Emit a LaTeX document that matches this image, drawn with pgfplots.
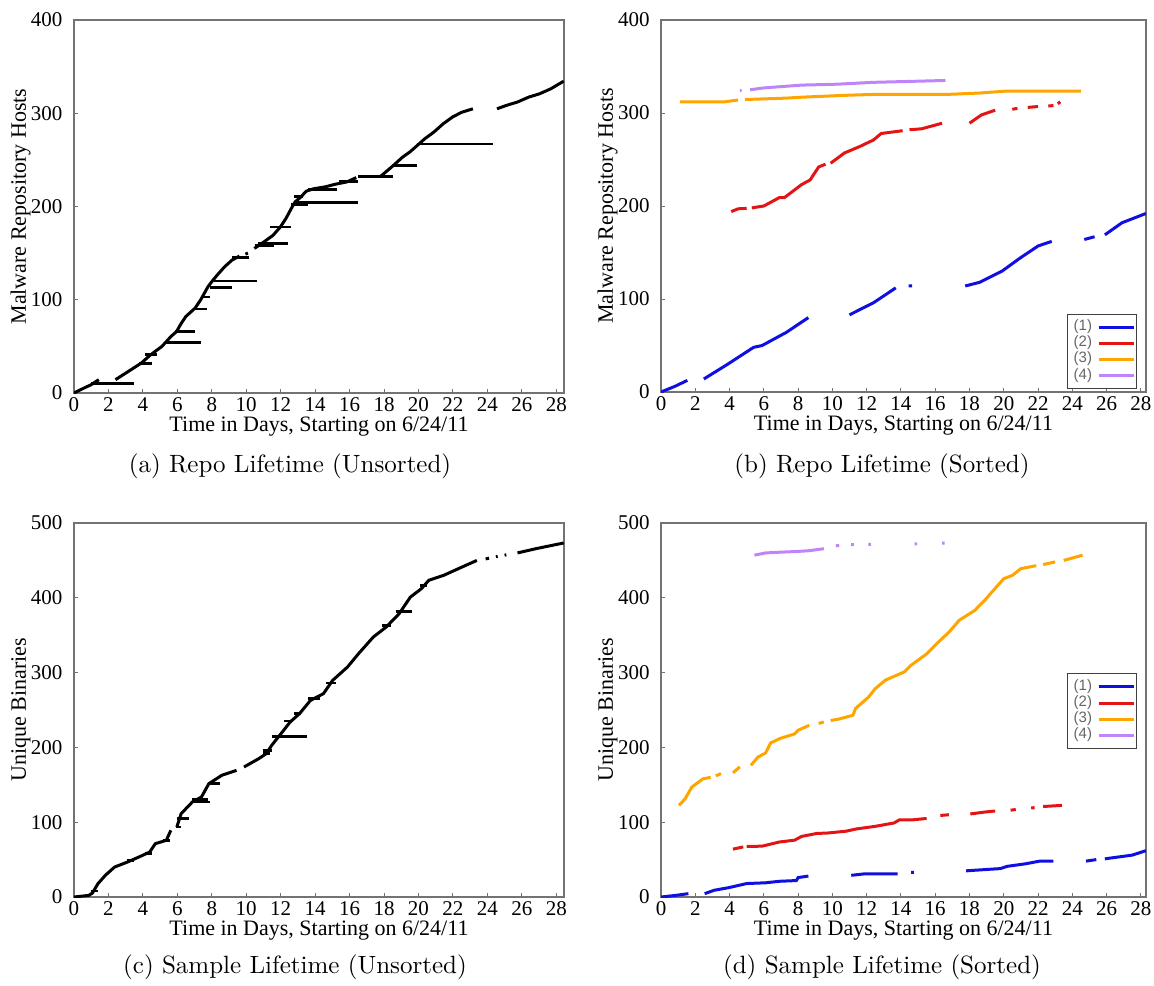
\documentclass[border=0pt]{standalone}
\usepackage{fontspec}
\usepackage{pgfplots}
\pgfplotsset{compat=1.18}
\newfontfamily\axisfont{Liberation Serif}
\newfontfamily\legfont{Liberation Sans}
\definecolor{lblue}{RGB}{15,15,225}
\definecolor{lred}{RGB}{228,20,20}
\definecolor{lorange}{RGB}{255,165,0}
\definecolor{lpurple}{RGB}{192,132,250}

\pgfplotsset{
  lifeaxis/.style={
    scale only axis, anchor=south west,
    xmin=0, ymin=0,
    xtick={0,2,...,28},
    tick align=inside, tick pos=left,
    major tick length=1.6pt,
    axis line style={black!55, line width=0.5pt},
    every tick/.style={black!55, line width=0.4pt},
    tick label style={font=\axisfont\fontsize{8.4}{10}\selectfont},
    label style={font=\axisfont\fontsize{8.8}{10}\selectfont},
    /pgf/number format/assume math mode=true,
    x tick label style={inner sep=0pt, yshift=-1.6pt},
    y tick label style={inner sep=0pt, xshift=-4.4pt},
    xlabel style={inner sep=0pt, yshift=-2pt},
    ylabel style={inner sep=0pt, yshift=0pt},
    xlabel={Time in Days, Starting on 6/24/11},
    unbounded coords=jump,
    legend plot pos=right,
    legend cell align=left,
    legend image code/.code={\draw[#1] (0pt,0pt) -- (14pt,0pt);},
    legend style={font=\legfont\fontsize{6}{6}\selectfont, text=gray!80!black,
      draw=black!75, line width=0.4pt, inner xsep=0.5pt, inner ysep=0.3pt,
      row sep=-3.4pt},
  },
  unsorted/.style={black, line width=1.2pt},
  bars/.style={black, line width=1.1pt},
  sorted/.style={line width=1.2pt},
}

\begin{document}
\begin{tikzpicture}
\useasboundingbox (0pt,0pt) rectangle (461.6pt,-394.4pt);

% (a) repositories, unsorted
\begin{axis}[lifeaxis, at={(29.6pt,-157.2pt)}, width=196pt, height=149.2pt,
  xmax=28.45, ymax=400, ytick={0,100,...,400}, ylabel={Malware Repository Hosts}]
\addplot[unsorted] coordinates {
  (0,0) (0.58,5.3) (1.0,8.9) (1.44,14.3) (1.5,nan)
  (2.41,14.3) (3.16,23.2) (3.91,32.1) (4.45,41) (5.1,49.9) (5.63,60.6)
  (5.96,66) (6.17,73) (6.49,82) (7.03,91) (7.35,99.8) (7.57,107)
  (7.78,114) (8.0,119.4) (8.32,126.6) (8.75,135.5) (9.18,142.6) (9.61,146.9)
  (9.8,nan) (9.95,149) (10.1,150) (10.2,nan)
  (10.47,155) (10.9,160.4) (11.55,169) (11.98,178) (12.3,187) (12.62,198)
  (12.84,205) (13.16,210) (13.48,216.4) (13.9,219) (14.56,221) (15.2,224)
  (15.85,226.4) (16.39,231) (16.5,nan)
  (17.8,232.4) (18.1,237) (18.54,244) (19.08,253) (19.5,258.5) (19.94,265.6)
  (20.37,272.7) (20.9,279.9) (21.44,288.8) (21.98,296) (22.5,301) (23.16,304.8)
  (23.3,nan)
  (24.56,304.8) (25.1,308.4) (25.74,312) (26.4,317.3) (27.03,320.9)
  (27.68,326.2) (28.43,334.4)
};
\addplot[bars] coordinates {
  (1.0,10) (3.5,10) (3.6,nan)
  (3.8,32) (4.5,32) (4.6,nan)
  (4.1,41) (4.8,41) (4.9,nan)
  (5.3,54) (7.4,54) (7.5,nan)
  (5.85,66) (7.0,66) (7.1,nan)
  (7.0,90) (7.7,90) (7.8,nan)
  (7.5,103) (7.9,103) (8.0,nan)
  (7.9,113) (9.2,113) (9.3,nan)
  (8.1,120) (10.6,120) (10.7,nan)
  (9.2,145) (10.15,145) (10.2,nan)
  (10.5,158) (11.6,158) (11.7,nan)
  (10.7,160) (12.45,160) (12.5,nan)
  (11.4,178) (12.6,178) (12.7,nan)
  (12.6,202) (13.6,202) (13.7,nan)
  (12.85,204) (16.5,204) (16.6,nan)
  (12.8,211) (13.3,211) (13.4,nan)
  (13.6,218) (15.25,218) (15.3,nan)
  (15.4,227) (16.5,227) (16.6,nan)
  (16.5,232) (18.5,232) (18.6,nan)
  (18.5,244) (19.9,244) (20.0,nan)
  (19.9,267) (24.35,267)
};
\end{axis}

% (b) repositories, sorted
\begin{axis}[lifeaxis, at={(264.4pt,-156.8pt)}, width=194pt, height=148.8pt,
  xmax=28.3, ymax=400, ytick={0,100,...,400}, ylabel={Malware Repository Hosts},
  legend style={at={(0.981,0.008)}, anchor=south east}]
\addplot[sorted, lblue] coordinates {
  (0,0) (0.8,6) (1.54,12.5) (1.6,nan)
  (2.5,14) (3.9,30) (5.4,48) (5.9,50) (7.3,64) (8.6,80) (8.7,nan)
  (11.0,83) (12.4,96) (13.7,112) (13.8,nan)
  (14.45,114) (14.65,114) (14.7,nan)
  (17.75,114) (18.6,118) (19.9,130) (20.95,144) (22.0,157) (22.8,162) (22.9,nan)
  (24.7,164) (25.3,167) (25.4,nan)
  (25.9,169) (26.9,182) (28.3,192)
};
\addlegendentry{(1)}
\addplot[sorted, lred] coordinates {
  (4.1,194) (4.5,197) (5.0,197.5) (5.1,nan) (5.3,198) (6.0,200) (6.9,209) (7.2,209)
  (8.2,223) (8.7,228) (9.2,242) (9.6,245) (9.7,nan) (9.9,246) (10.7,257) (11.6,264)
  (12.4,271) (12.85,278) (13.7,280) (14.1,281) (14.2,nan) (14.5,282) (15.2,283) (15.8,286)
  (16.4,289) (16.5,nan)
  (18.0,289) (18.7,298) (19.5,303) (19.6,nan)
  (20.5,304) (20.8,305) (20.9,nan) (21.4,306) (22.0,307) (22.1,nan) (22.6,307.5)
  (22.9,308) (23.0,nan) (23.15,310) (23.3,312)
};
\addlegendentry{(2)}
\addplot[sorted, lorange] coordinates {
  (1.1,312) (3.7,312) (4.5,314) (4.6,nan)
  (4.9,314.5) (7.3,316) (8.2,317) (10.7,319) (12.4,320) (16.7,320)
  (18.6,321.5) (20.1,323.5) (24.5,323.5)
};
\addlegendentry{(3)}
\addplot[sorted, lpurple] coordinates {
  (4.6,324) (4.7,324) (4.8,nan)
  (5.2,325) (6.0,327) (8.2,330) (10.3,331) (12.4,333) (14.55,334) (16.6,335)
};
\addlegendentry{(4)}
\end{axis}

% (c) samples, unsorted
\begin{axis}[lifeaxis, at={(29.6pt,-358.8pt)}, width=196pt, height=149.6pt,
  xmax=28.45, ymax=500, ytick={0,100,...,500}, ylabel={Unique Binaries}]
\addplot[unsorted] coordinates {
  (0,0) (0.86,2.2) (1.07,5.3) (1.39,17.8) (1.82,29) (2.36,40.1) (3.11,46.8)
  (3.86,54.4) (4.4,60.2) (4.72,71.3) (5.36,75.8) (5.62,89.1) (5.7,nan)
  (5.97,93.6) (6.22,111.4) (6.87,127) (7.4,133.7) (7.83,151.5) (8.58,162.7)
  (9.44,169.3) (9.5,nan)
  (9.87,173.8) (10.73,185) (11.16,191.6) (11.48,202.8) (12.02,218.4)
  (12.55,234) (13.09,245) (13.73,262.9) (14.48,271.8) (15.02,289.7)
  (15.88,307.5) (16.52,325.3) (17.38,347.6) (18.13,361) (18.88,378.8)
  (19.53,401) (20.17,412.2) (20.6,423.4) (21.46,430) (22.1,436.7)
  (22.75,443.4) (23.39,450) (23.5,nan)
  (23.9,452) (24.1,453) (24.2,nan) (24.5,455) (24.6,455.5) (24.7,nan)
  (25.0,457) (25.1,457.5) (25.2,nan)
  (25.75,460) (26.82,465.7) (28.43,473.3)
};
\addplot[bars] coordinates {
  (0.97,8) (1.4,8) (1.5,nan)
  (3.1,49) (3.5,49) (3.6,nan)
  (4.1,58) (4.5,58) (4.6,nan)
  (5.15,75.8) (5.6,75.8) (5.7,nan)
  (5.9,93.6) (6.2,93.6) (6.3,nan)
  (6.0,104.7) (6.65,104.7) (6.7,nan)
  (6.8,127) (7.9,127) (8.0,nan)
  (6.85,130) (7.8,130) (7.9,nan)
  (7.8,151.5) (8.5,151.5) (8.6,nan)
  (11.0,191.6) (11.4,191.6) (11.5,nan)
  (11.0,196) (11.5,196) (11.6,nan)
  (11.5,214.8) (13.5,214.8) (13.6,nan)
  (12.2,235.3) (12.7,235.3) (12.8,nan)
  (12.8,245) (13.2,245) (13.3,nan)
  (13.6,265) (14.3,265) (14.4,nan)
  (14.65,286) (15.2,286) (15.3,nan)
  (17.9,363) (18.4,363) (18.5,nan)
  (18.7,382) (19.6,382) (19.7,nan)
  (20.1,416.7) (20.5,416.7)
};
\end{axis}

% (d) samples, sorted
\begin{axis}[lifeaxis, at={(264.4pt,-358.8pt)}, width=194pt, height=149.6pt,
  xmax=28.3, ymax=500, ytick={0,100,...,500}, ylabel={Unique Binaries},
  legend style={at={(0.981,0.497)}, anchor=east}]
\addplot[sorted, lblue] coordinates {
  (0,0) (0.8,2) (1.6,4.5) (1.7,nan)
  (2.55,4.5) (3.1,9) (3.95,12.5) (5.0,18) (6.1,19) (6.9,21) (7.9,22) (8.0,26) (8.6,28) (8.7,nan)
  (11.1,29) (11.9,31) (13.8,31) (13.9,nan)
  (14.6,33) (14.75,33) (14.8,nan)
  (17.8,35) (19.8,38) (20.2,41) (21.3,44.5) (22.1,48) (22.9,48) (23.0,nan)
  (24.8,48) (25.4,50) (25.5,nan)
  (25.9,51) (26.2,52) (27.5,56) (28.3,62)
};
\addlegendentry{(1)}
\addplot[sorted, lred] coordinates {
  (4.2,64) (4.8,67) (4.9,nan)
  (5.0,67.5) (5.9,68) (6.9,73.5) (7.8,76) (8.2,81) (9.1,85) (9.7,85.5)
  (10.8,88) (11.4,91) (12.5,94.5) (13.6,99) (13.9,103) (14.6,103) (15.5,105) (15.6,nan)
  (16.3,109) (16.8,110) (16.9,nan)
  (18.05,111) (18.9,113.6) (19.5,115) (19.6,nan)
  (20.4,116) (20.7,117) (20.8,nan)
  (21.6,119) (21.8,119.5) (21.9,nan)
  (22.3,121) (23.4,122.5)
};
\addlegendentry{(2)}
\addplot[sorted, lorange] coordinates {
  (1.05,122.5) (1.4,131) (1.8,147) (2.45,158) (2.9,160) (3.0,nan)
  (3.2,162) (3.5,165) (3.6,nan)
  (4.2,166) (4.6,174) (4.7,nan)
  (5.25,176) (5.65,187) (6.1,192.5) (6.4,206) (6.95,212) (7.8,218) (8.0,223)
  (8.65,229.5) (8.7,nan)
  (9.2,232) (9.5,234) (9.6,nan)
  (9.9,236) (10.4,238) (11.2,243) (11.35,252) (12.1,267) (12.5,278.5) (13.1,290)
  (14.2,301) (14.6,310) (15.5,325) (16.1,339) (16.8,354) (17.4,370) (18.3,383)
  (18.9,397) (19.55,414) (20.0,425.5) (20.5,430) (21.0,439) (21.9,443) (22.0,nan)
  (22.3,444.5) (23.0,448) (23.1,nan) (23.5,450) (24.6,457)
};
\addlegendentry{(3)}
\addplot[sorted, lpurple] coordinates {
  (5.45,457) (6.1,460) (6.95,461) (8.0,462) (8.65,463) (9.5,465.7) (9.6,nan)
  (10.2,469.5) (10.4,470) (10.5,nan)
  (11.1,471) (11.25,471) (11.3,nan)
  (12.1,471.5) (12.25,471.5) (12.3,nan)
  (14.8,472) (14.95,472) (15.0,nan)
  (16.4,473) (16.55,473)
};
\addlegendentry{(4)}
\end{axis}

\node[font=\fontsize{10}{12}\selectfont] at (116pt,-186.4pt) {(a)~Repo Lifetime (Unsorted)};
\node[font=\fontsize{10}{12}\selectfont] at (352.8pt,-186.4pt) {(b)~Repo Lifetime (Sorted)};
\node[font=\fontsize{10}{12}\selectfont] at (118pt,-386.8pt) {(c)~Sample Lifetime (Unsorted)};
\node[font=\fontsize{10}{12}\selectfont] at (352.8pt,-386.8pt) {(d)~Sample Lifetime (Sorted)};
\end{tikzpicture}
\end{document}
